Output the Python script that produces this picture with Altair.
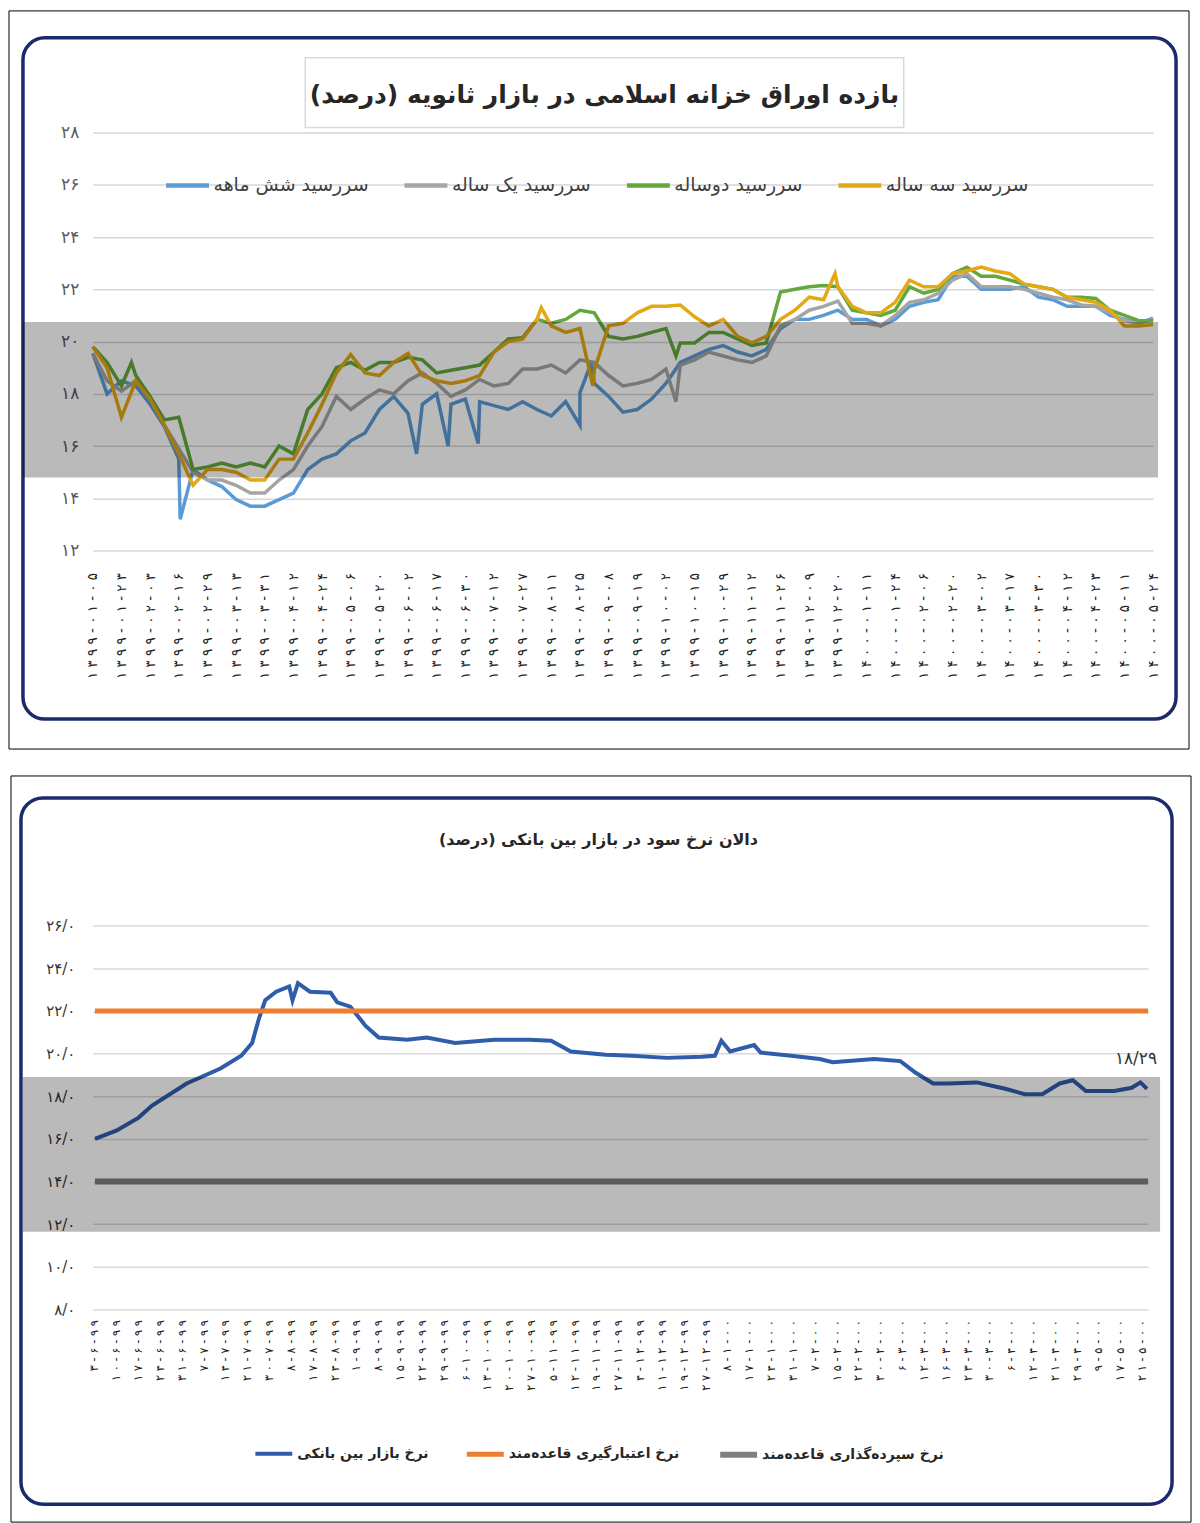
import altair as alt
import pandas as pd

FA_DIGITS = str.maketrans("0123456789", "۰۱۲۳۴۵۶۷۸۹")


def fa(s):
    return str(s).translate(FA_DIGITS)


def spaced(s):
    return " ".join(fa(s))


FONT = "DejaVu Sans"
RLM = "\u200f"

# ------------------------------------------------------------------ top chart data
TOP_TITLE = "بازده اوراق خزانه اسلامی در بازار ثانویه  (درصد)"
top_dates = ["1399-01-05", "1399-01-23", "1399-02-03", "1399-02-16", "1399-02-29", "1399-03-13",
             "1399-03-31", "1399-04-12", "1399-04-24", "1399-05-06", "1399-05-20", "1399-06-02",
             "1399-06-17", "1399-06-30", "1399-07-12", "1399-07-27", "1399-08-11", "1399-08-25",
             "1399-09-08", "1399-09-19", "1399-10-02", "1399-10-15", "1399-10-29", "1399-11-12",
             "1399-11-26", "1399-12-09", "1399-12-20", "1400-01-11", "1400-01-24", "1400-02-06",
             "1400-02-20", "1400-03-02", "1400-03-17", "1400-03-30", "1400-04-12", "1400-04-23",
             "1400-05-11", "1400-05-24"]
top_series = ["سررسید شش ماهه", "سررسید یک ساله", "سررسید دوساله", "سررسید سه ساله"]
top_colors = ["#5B9BD5", "#A5A5A5", "#62A83C", "#E3A915"]
top_y_ticks = [12, 14, 16, 18, 20, 22, 24, 26, 28]

# position on the date axis (index of date label), read every half label
t_half = [k / 2 for k in range(75)]

six_month = [19.55, 18.0, 18.5, 18.3, 17.6, 16.75, 15.5, 15.1, 14.7, 14.45,
             13.95, 13.7, 13.7, 13.95, 14.2, 15.1, 15.5, 15.7, 16.2, 16.5,
             17.4, 17.9, 17.25, 17.6, 18.0, 17.6, 17.8,
             17.7, 17.55, 17.4, 17.7, 17.4, 17.15, 17.7, 18.05, 18.4, 17.9,
             17.3, 17.4, 17.8, 18.4, 19.2, 19.45, 19.7, 19.85, 19.6, 19.45,
             19.7, 20.5, 20.85, 20.85,
             21.0, 21.2, 20.85, 20.85, 20.6, 20.85, 21.35, 21.5, 21.6, 22.5,
             22.5, 22.0, 22.0, 22.0, 22.1, 21.7, 21.6, 21.35, 21.35, 21.35,
             21.0, 20.85, 20.7, 20.9]
six_month_spike_t = [3.05, 11.3, 12.4, 13.45, 17.0, 17.4]
six_month_spike_v = [13.2, 15.7, 16.0, 16.1, 16.8, 19.2]

one_year = [19.55, 18.5, 18.1, 18.5, 17.8, 16.8, 15.9, 15.0, 14.7, 14.7,
            14.5, 14.2, 14.2, 14.7, 15.1, 16.0, 16.75, 17.9, 17.4, 17.8,
            18.15, 18.0, 18.5, 18.8, 18.4, 17.9, 18.15,
            18.55, 18.3, 18.4, 18.95, 18.95, 19.1, 18.8, 19.3, 19.2, 18.7,
            18.3, 18.4, 18.55, 18.95, 19.1, 19.3, 19.6, 19.45, 19.3, 19.2,
            19.45, 20.6, 20.85, 21.2,
            21.35, 21.55, 20.7, 20.7, 20.6, 21.0, 21.5, 21.6, 21.85, 22.35,
            22.6, 22.1, 22.1, 22.1, 22.0, 21.85, 21.7, 21.6, 21.4, 21.35,
            21.1, 20.8, 20.7, 20.85]
one_year_spike_t = [20.35]
one_year_spike_v = [17.7]

two_year = [19.8, 19.2, 18.3, 18.7, 17.9, 17.0, 17.1, 15.1, 15.2, 15.35,
            15.2, 15.35, 15.2, 16.0, 15.7, 17.4, 18.0, 19.0, 19.2, 18.9,
            19.2, 19.2, 19.4, 19.3, 18.8, 18.9, 19.0,
            19.1, 19.6, 20.1, 20.15, 20.85, 20.7, 20.85, 21.2, 21.1, 20.2,
            20.1, 20.2, 20.35, 20.5, 19.95, 19.95, 20.35, 20.35, 20.1, 19.85,
            19.95, 21.9, 22.0, 22.1,
            22.15, 22.1, 21.2, 21.1, 21.0, 21.2, 22.1, 21.85, 22.0, 22.6,
            22.85, 22.5, 22.5, 22.35, 22.2, 22.1, 22.0, 21.7, 21.7, 21.65,
            21.2, 21.0, 20.8, 20.8]
two_year_spike_t = [1.35, 20.35]
two_year_spike_v = [19.2, 19.45]

three_year = [19.8, 19.0, 17.1, 18.5, 17.8, 16.8, 15.7, 14.5, 15.1, 15.1,
              15.0, 14.7, 14.7, 15.5, 15.5, 16.5, 17.6, 18.8, 19.5, 18.8,
              18.7, 19.2, 19.55, 18.7, 18.5, 18.4, 18.5,
              18.7, 19.6, 20.0, 20.1, 20.85, 20.6, 20.35, 20.5, 18.9, 20.6,
              20.7, 21.1, 21.35, 21.35, 21.4, 20.95, 20.6, 20.85, 20.2, 19.95,
              20.2, 20.85, 21.2, 21.7,
              21.6, 22.1, 21.35, 21.1, 21.1, 21.5, 22.35, 22.1, 22.1, 22.6,
              22.7, 22.85, 22.7, 22.6, 22.2, 22.1, 22.0, 21.7, 21.6, 21.5,
              21.2, 20.6, 20.6, 20.65]
three_year_spike_t = [15.65, 17.45, 25.9]
three_year_spike_v = [21.3, 18.3, 22.6]

top_band = [14.8, 20.75]

# ------------------------------------------------------------------ bottom chart data
BOTTOM_TITLE = "دالان نرخ سود در بازار بین بانکی (درصد)"
bottom_dates = ["3-6-99", "10-6-99", "17-6-99", "24-6-99", "31-6-99", "7-7-99", "14-7-99",
                "21-7-99", "30-7-99", "8-8-99", "17-8-99", "24-8-99", "1-9-99", "8-9-99",
                "15-9-99", "22-9-99", "29-9-99", "6-10-99", "13-10-99", "20-10-99", "27-10-99",
                "5-11-99", "12-11-99", "19-11-99", "27-11-99", "4-12-99", "11-12-99", "19-12-99",
                "27-12-99", "8-1-00", "17-1-00", "24-1-00", "31-1-00", "7-2-00", "15-2-00",
                "22-2-00", "30-2-00", "6-3-00", "12-3-00", "16-3-00", "23-3-00", "30-3-00",
                "6-4-00", "12-4-00", "21-4-00", "29-4-00", "9-5-00", "17-5-00", "21-5-00"]
bottom_series = ["نرخ بازار بین بانکی", "نرخ اعتبارگیری قاعده‌مند", "نرخ سپرده‌گذاری قاعده‌مند"]
bottom_colors = ["#2F5DAA", "#ED7D31", "#7F7F7F"]
bottom_widths = [4, 6, 4]
bottom_y_ticks = [8, 10, 12, 14, 16, 18, 20, 22, 24, 26]

interbank_i = [0, 1, 2, 2.6, 4.2, 5.75, 6.7, 7.2, 7.5, 7.8,
               8.3, 8.9, 9.05, 9.3, 9.85, 10.8, 11.1, 11.7, 12.4, 13.0,
               14.3, 15.2, 16.5, 18.3, 19.9, 20.9, 21.8, 23.4, 24.6, 26.2,
               27.8, 28.4, 28.7, 29.1, 30.2, 30.5, 31.9, 33.2, 33.8, 35.7,
               36.9, 37.6, 38.4, 39.1, 40.4, 41.7, 42.6, 43.4, 44.2, 44.8,
               45.4, 46.7, 47.5, 47.9, 48.2]
interbank_v = [16.0, 16.4, 17.0, 17.55, 18.6, 19.3, 19.9, 20.5, 21.6, 22.5,
               22.9, 23.15, 22.5, 23.3, 22.9, 22.85, 22.4, 22.2, 21.3, 20.75,
               20.65, 20.75, 20.5, 20.65, 20.65, 20.6, 20.1, 19.95, 19.9, 19.8,
               19.85, 19.9, 20.6, 20.1, 20.4, 20.05, 19.9, 19.75, 19.6, 19.75,
               19.65, 19.1, 18.6, 18.6, 18.65, 18.35, 18.1, 18.1, 18.6, 18.75,
               18.25, 18.25, 18.4, 18.65, 18.35]
corridor_i = [0, 48.25]
credit_rate = [22.0, 22.0]
deposit_rate = [14.0, 14.0]
last_label = "18/29"
bottom_band = [11.65, 18.9]

# ------------------------------------------------------------------ tables
rows = []
for name, vals, st, sv in [
    (top_series[0], six_month, six_month_spike_t, six_month_spike_v),
    (top_series[1], one_year, one_year_spike_t, one_year_spike_v),
    (top_series[2], two_year, two_year_spike_t, two_year_spike_v),
    (top_series[3], three_year, three_year_spike_t, three_year_spike_v),
]:
    pts = sorted(list(zip(t_half, vals)) + list(zip(st, sv)))
    for t, v in pts:
        rows.append({"s": name, "t": t, "v": v})
top_df = pd.DataFrame(rows)

brows = []
for i, v in zip(interbank_i, interbank_v):
    brows.append({"b": bottom_series[0], "i": i, "v": v})
for i, v in zip(corridor_i, credit_rate):
    brows.append({"b": bottom_series[1], "i": i, "v": v})
for i, v in zip(corridor_i, deposit_rate):
    brows.append({"b": bottom_series[2], "i": i, "v": v})
bottom_df = pd.DataFrame(brows)


def js_array(items):
    return "[" + ",".join("'" + s + "'" for s in items) + "]"


def rect(x, x2, y, y2, **kw):
    return alt.Chart(pd.DataFrame({"k": [0]})).mark_rect(**kw).encode(
        x=alt.value(x), x2=alt.value(x2), y=alt.value(y), y2=alt.value(y2))


def label(text, x, y, **kw):
    return alt.Chart(pd.DataFrame({"txt": [text]})).mark_text(font=FONT, **kw).encode(
        x=alt.value(x), y=alt.value(y), text="txt:N")


# ------------------------------------------------------------------ top panel
TW, TH = 1063, 419
tx_scale = alt.Scale(domain=[0, len(top_dates) - 1], nice=False, zero=False)
ty_scale = alt.Scale(domain=[12, 28], nice=False, zero=False)

top_x_axis = alt.Axis(values=list(range(len(top_dates))),
                      labelExpr=js_array([spaced(d) for d in top_dates]) + "[datum.value]",
                      labelAngle=270, labelFont=FONT, labelFontSize=13.5, labelColor="#222222",
                      labelPadding=22, ticks=False, domain=False, grid=False,
                      labelOverlap=False, labelFlush=False, title=None)
top_y_axis = alt.Axis(values=top_y_ticks,
                      labelExpr=js_array([fa(v) for v in top_y_ticks]) + "[(datum.value-12)/2]",
                      labelFont=FONT, labelFontSize=17, labelColor="#5a5a5a", labelPadding=14,
                      ticks=False, domain=False, grid=True, gridColor="#d6d6d6", gridWidth=1.5,
                      title=None)

top_lines = alt.Chart(top_df).mark_line(strokeWidth=3.5).encode(
    x=alt.X("t:Q", scale=tx_scale, axis=top_x_axis),
    y=alt.Y("v:Q", scale=ty_scale, axis=top_y_axis),
    color=alt.Color("s:N", sort=top_series,
                    scale=alt.Scale(domain=top_series, range=top_colors),
                    legend=alt.Legend(title=None, orient="none", legendX=71, legendY=29,
                                      direction="horizontal", columns=4, symbolType="stroke",
                                      symbolSize=1849, symbolStrokeWidth=4.5, labelFont=FONT,
                                      labelFontSize=19, labelFontWeight="normal",
                                      labelColor="#404040", labelLimit=400,
                                      columnPadding=26, labelOffset=2, gridAlign="none")),
    order=alt.Order("t:Q"),
)

top_band_layer = alt.Chart(pd.DataFrame({"lo": [top_band[0]], "hi": [top_band[1]]})).mark_rect(
    color="black", opacity=0.27).encode(
    x=alt.value(-70), x2=alt.value(1068),
    y=alt.Y("lo:Q", scale=ty_scale, axis=top_y_axis), y2="hi:Q")

top_panel = alt.layer(
    rect(-84, 1099, -122, 618, fillOpacity=0, stroke="#000000", strokeWidth=1),
    rect(-70, 1086, -95, 588, fillOpacity=0, stroke="#1B2A6B", strokeWidth=3.5, cornerRadius=22),
    rect(213, 813, -75, -5, fill="white", stroke="#d9d9d9", strokeWidth=1.5),
    label(RLM + TOP_TITLE + RLM, 513, -38, fontSize=25, fontWeight="bold", color="#262626",
          align="center", baseline="middle"),
    top_lines,
    top_band_layer,
).properties(width=TW, height=TH)

# ------------------------------------------------------------------ bottom panel
BW, BH = 1058, 385
bx_scale = alt.Scale(domain=[-0.1, 48.25], nice=False, zero=False)
by_scale = alt.Scale(domain=[8, 26], nice=False, zero=False)

bottom_x_axis = alt.Axis(values=list(range(len(bottom_dates))),
                         labelExpr=js_array([spaced(d) for d in bottom_dates]) + "[datum.value]",
                         labelAngle=270, labelFont=FONT, labelFontSize=11.5, labelColor="#222222",
                         labelPadding=10, ticks=False, domain=False, grid=False,
                         labelOverlap=False, labelFlush=False, title=None)
bottom_y_axis = alt.Axis(values=bottom_y_ticks,
                         labelExpr=js_array([fa(f"{v}/0") for v in bottom_y_ticks]) + "[(datum.value-8)/2]",
                         labelFont=FONT, labelFontSize=15, labelColor="#333333", labelPadding=18,
                         ticks=False, domain=False, grid=True, gridColor="#d9d9d9", gridWidth=1.5,
                         title=None)

bottom_lines = alt.Chart(bottom_df).mark_line().encode(
    x=alt.X("i:Q", scale=bx_scale, axis=bottom_x_axis),
    y=alt.Y("v:Q", scale=by_scale, axis=bottom_y_axis),
    color=alt.Color("b:N", sort=bottom_series,
                    scale=alt.Scale(domain=bottom_series, range=bottom_colors),
                    legend=alt.Legend(title=None, orient="none", legendX=160, legendY=509,
                                      direction="horizontal", columns=3, symbolType="stroke",
                                      symbolSize=1369, symbolStrokeWidth=4, labelFont=FONT,
                                      labelFontSize=14, labelFontWeight="bold",
                                      labelColor="#262626", labelLimit=400, columnPadding=28,
                                      labelOffset=2, gridAlign="none")),
    strokeWidth=alt.StrokeWidth("b:N", scale=alt.Scale(domain=bottom_series, range=bottom_widths),
                                legend=None),
    order=alt.Order("i:Q"),
)

end_label = alt.Chart(pd.DataFrame({"i": [interbank_i[-1]], "v": [interbank_v[-1]],
                                    "txt": [fa(last_label)]})).mark_text(
    font=FONT, fontSize=17, color="#333333", align="right", dx=10, dy=-30).encode(
    x=alt.X("i:Q", scale=bx_scale, axis=bottom_x_axis),
    y=alt.Y("v:Q", scale=by_scale, axis=bottom_y_axis),
    text="txt:N")

bottom_band_layer = alt.Chart(pd.DataFrame({"lo": [bottom_band[0]], "hi": [bottom_band[1]]})).mark_rect(
    color="black", opacity=0.27).encode(
    x=alt.value(-70), x2=alt.value(1070),
    y=alt.Y("lo:Q", scale=by_scale, axis=bottom_y_axis), y2="hi:Q")

bottom_panel = alt.layer(
    rect(-82, 1101, -150, 598, fillOpacity=0, stroke="#000000", strokeWidth=1),
    rect(-72, 1082, -128, 580, fillOpacity=0, stroke="#1B2A6B", strokeWidth=3.5, cornerRadius=22),
    label(RLM + BOTTOM_TITLE + RLM, 507, -86, fontSize=16, fontWeight="bold", color="#262626",
          align="center", baseline="middle"),
    bottom_lines,
    end_label,
    bottom_band_layer,
).properties(width=BW, height=BH)

chart = alt.vconcat(top_panel, bottom_panel, spacing=25).resolve_scale(
    color="independent", strokeWidth="independent").resolve_legend(
    color="independent", strokeWidth="independent").properties(
    padding=0, background="white").configure_view(stroke=None)

chart.save("out.html", embed_options={"renderer": "svg", "actions": False})
